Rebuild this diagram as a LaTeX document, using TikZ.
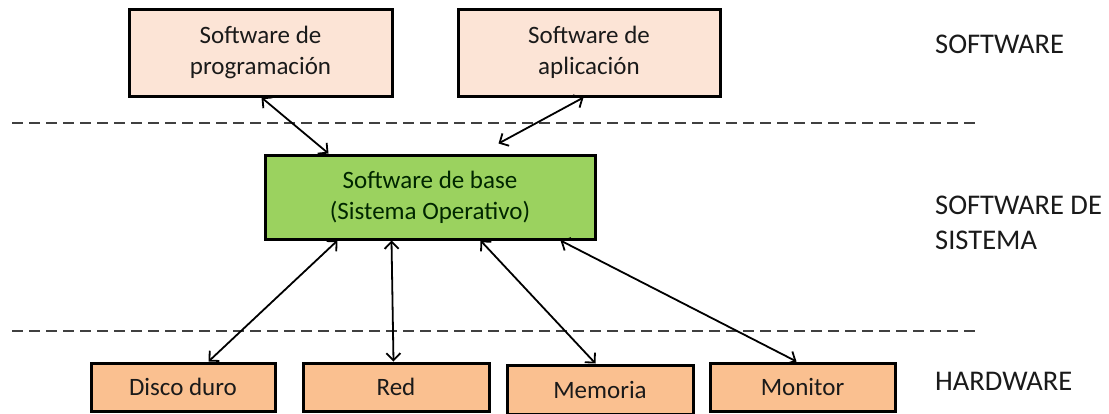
\documentclass[tikz,border=0pt]{standalone}
\usepackage{fontspec}
\setmainfont{Carlito}
\usetikzlibrary{arrows.meta}
\definecolor{swfill}{HTML}{FCE4D6}
\definecolor{basefill}{HTML}{9BD25F}
\definecolor{hwfill}{HTML}{FAC090}
\definecolor{txt}{HTML}{1A1A1A}
\tikzset{
  box/.style={draw=black,line width=3pt,inner sep=0pt,align=center,text=txt,
    font=\fontsize{25}{31}\selectfont},
  swbox/.style={box,fill=swfill,minimum width=263pt,minimum height=87pt},
  basebox/.style={box,fill=basefill,minimum width=330pt,minimum height=84pt,text=black!85!green},
  hwbox/.style={box,fill=hwfill,minimum height=48pt},
  link/.style={line width=1.8pt,{Straight Barb[length=7pt,width=14pt]}-{Straight Barb[length=7pt,width=14pt]}},
  layer/.style={draw=black!75,line width=1.6pt,dash pattern=on 11pt off 6pt},
  layertext/.style={text=txt,align=left,inner sep=0pt,font=\fontsize{28.5}{35}\selectfont}
}
\begin{document}
\begin{tikzpicture}[x=1pt,y=-1pt]
\useasboundingbox (0,0) rectangle (1109,413);
\node[swbox] (prog) at (260.5,52.5) {Software de\\programación};
\node[swbox,minimum width=262pt] (apl) at (589,52.5) {Software de\\aplicación};
\node[basebox] (base) at (430,197) {Software de base\\(Sistema Operativo)};
\node[hwbox,minimum width=184pt] (disco) at (183,387) {Disco duro};
\node[hwbox,minimum width=186pt] (red) at (396,387) {Red};
\node[hwbox,minimum width=186pt,minimum height=49pt] (mem) at (600,389.5) {Memoria};
\node[hwbox,minimum width=185pt] (mon) at (802.5,387) {Monitor};
\coordinate (l1a) at (12,123);
\coordinate (l1b) at (980,123);
\coordinate (l2a) at (12,331);
\coordinate (l2b) at (980,331);
\draw[layer] (l1a) -- (l1b);
\draw[layer] (l2a) -- (l2b);
\draw[link] ([xshift=134pt]prog.south west) -- ([xshift=65pt]base.north west);
\draw[link] ([xshift=127pt]apl.south west) -- ([xshift=235pt,yshift=10pt]base.north west);
\draw[link] ([xshift=74pt]base.south west) -- ([xshift=119pt]disco.north west);
\draw[link] ([xshift=128pt]base.south west) -- ([xshift=92pt]red.north west);
\draw[link] ([xshift=217pt]base.south west) -- ([xshift=90pt]mem.north west);
\draw[link] ([xshift=297pt]base.south west) -- ([xshift=88pt]mon.north west);
\node[layertext,anchor=base west] (sw) at (935,53) {SOFTWARE};
\node[layertext,anchor=west] (ss) at (935,223) {SOFTWARE DE\\SISTEMA};
\node[layertext,anchor=base west] (hw) at (935,390) {HARDWARE};
\end{tikzpicture}
\end{document}
